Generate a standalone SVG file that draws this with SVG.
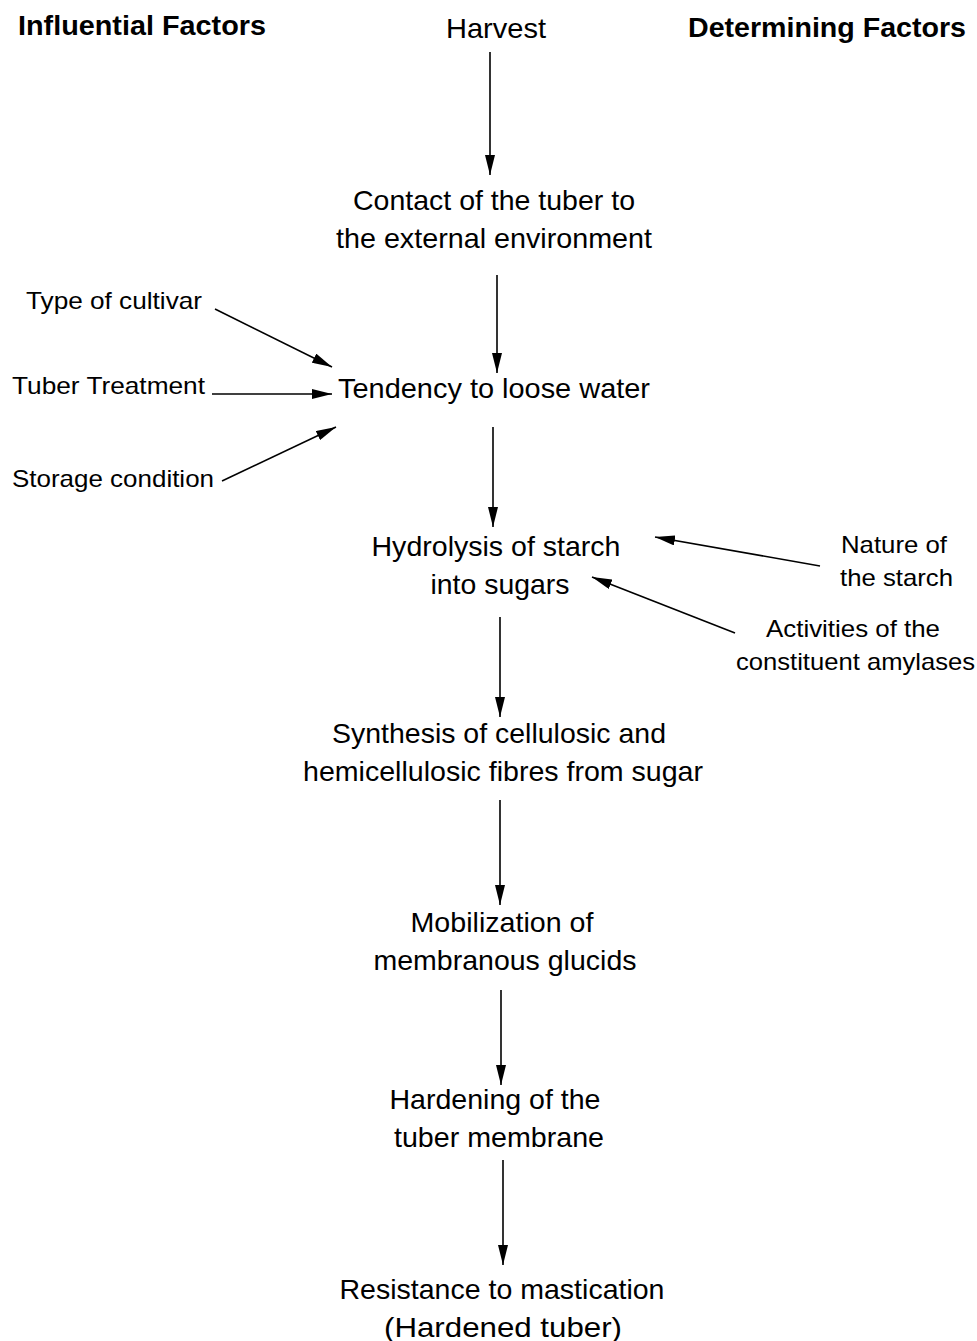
<svg xmlns="http://www.w3.org/2000/svg" width="977" height="1341" viewBox="0 0 977 1341">
<style>
text{font-family:"Liberation Sans",Arial,sans-serif;fill:#000}
.m{font-size:28px;text-anchor:middle}
.s{font-size:24px}
.h{font-size:28px;font-weight:bold}
.c line{stroke:#000;stroke-width:1.6;marker-end:url(#ah)}
</style>
<defs>
<marker id="ah" markerUnits="userSpaceOnUse" markerWidth="20" markerHeight="10" refX="20" refY="5" orient="auto">
<path d="M0,0 L20,5 L0,10 z" fill="#000"/>
</marker>
</defs>
<rect width="977" height="1341" fill="#fff"/>
<g id="headers">
<text class="h" x="18" y="35" textLength="248" lengthAdjust="spacingAndGlyphs">Influential Factors</text>
<text class="h" x="688" y="37" textLength="278" lengthAdjust="spacingAndGlyphs">Determining Factors</text>
</g>
<g id="harvest"><text class="m" x="496" y="38" textLength="100" lengthAdjust="spacingAndGlyphs">Harvest</text></g>
<g id="contact">
<text class="m" x="494" y="210" textLength="282" lengthAdjust="spacingAndGlyphs">Contact of the tuber to</text>
<text class="m" x="494" y="248" textLength="316" lengthAdjust="spacingAndGlyphs">the external environment</text>
</g>
<g id="tendency"><text class="m" x="494" y="398" textLength="312" lengthAdjust="spacingAndGlyphs">Tendency to loose water</text></g>
<g id="cultivar"><text class="s" x="26" y="309" textLength="176" lengthAdjust="spacingAndGlyphs">Type of cultivar</text></g>
<g id="treatment"><text class="s" x="12" y="394" textLength="193" lengthAdjust="spacingAndGlyphs">Tuber Treatment</text></g>
<g id="storage"><text class="s" x="12" y="487" textLength="202" lengthAdjust="spacingAndGlyphs">Storage condition</text></g>
<g id="hydrolysis">
<text class="m" x="496" y="556" textLength="249" lengthAdjust="spacingAndGlyphs">Hydrolysis of starch</text>
<text class="m" x="500" y="594" textLength="139" lengthAdjust="spacingAndGlyphs">into sugars</text>
</g>
<g id="nature">
<text class="s" x="841" y="553" textLength="106" lengthAdjust="spacingAndGlyphs">Nature of</text>
<text class="s" x="840" y="586" textLength="113" lengthAdjust="spacingAndGlyphs">the starch</text>
</g>
<g id="activities">
<text class="s" x="766" y="637" textLength="174" lengthAdjust="spacingAndGlyphs">Activities of the</text>
<text class="s" x="736" y="670" textLength="239" lengthAdjust="spacingAndGlyphs">constituent amylases</text>
</g>
<g id="synthesis">
<text class="m" x="499" y="743" textLength="334" lengthAdjust="spacingAndGlyphs">Synthesis of cellulosic and</text>
<text class="m" x="503" y="781" textLength="400" lengthAdjust="spacingAndGlyphs">hemicellulosic fibres from sugar</text>
</g>
<g id="mobilization">
<text class="m" x="502" y="932" textLength="183" lengthAdjust="spacingAndGlyphs">Mobilization of</text>
<text class="m" x="505" y="970" textLength="263" lengthAdjust="spacingAndGlyphs">membranous glucids</text>
</g>
<g id="hardening">
<text class="m" x="495" y="1109" textLength="211" lengthAdjust="spacingAndGlyphs">Hardening of the</text>
<text class="m" x="499" y="1147" textLength="210" lengthAdjust="spacingAndGlyphs">tuber membrane</text>
</g>
<g id="resistance">
<text class="m" x="502" y="1299" textLength="325" lengthAdjust="spacingAndGlyphs">Resistance to mastication</text>
<text class="m" x="503" y="1337" textLength="238" lengthAdjust="spacingAndGlyphs">(Hardened tuber)</text>
</g>
<g id="connectors" class="c">
<line x1="490" y1="52" x2="490" y2="175"/>
<line x1="497" y1="275" x2="497" y2="373"/>
<line x1="215" y1="309" x2="332" y2="367"/>
<line x1="212" y1="394" x2="332" y2="394"/>
<line x1="222" y1="481" x2="336" y2="427"/>
<line x1="493" y1="427" x2="493" y2="527"/>
<line x1="820" y1="566" x2="655" y2="537"/>
<line x1="735" y1="633" x2="592" y2="577"/>
<line x1="500" y1="617" x2="500" y2="717"/>
<line x1="500" y1="800" x2="500" y2="905"/>
<line x1="501" y1="990" x2="501" y2="1085"/>
<line x1="503" y1="1160" x2="503" y2="1265"/>
</g>
</svg>
